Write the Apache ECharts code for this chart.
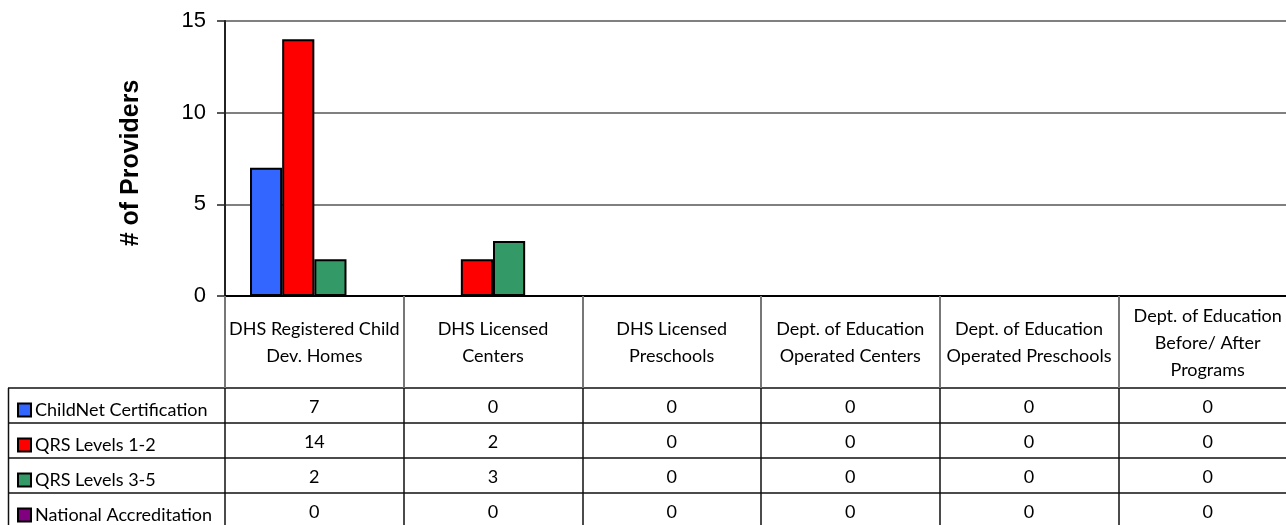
<!DOCTYPE html>
<html>
<head>
<meta charset="utf-8">
<script src="https://cdn.jsdelivr.net/npm/echarts@6/dist/echarts.min.js"></script>
<style>
html,body{margin:0;padding:0;background:#fff;}
#chart{width:1286px;height:525px;}
</style>
</head>
<body>
<div id="chart"></div>
<script>
const categories = [
  "DHS Registered Child\nDev. Homes",
  "DHS Licensed\nCenters",
  "DHS Licensed\nPreschools",
  "Dept. of Education\nOperated Centers",
  "Dept. of Education\nOperated Preschools",
  "Dept. of Education\nBefore/ After\nPrograms"
];
const seriesNames = ["ChildNet Certification", "QRS Levels 1-2", "QRS Levels 3-5", "National Accreditation"];
const childNet = [7, 0, 0, 0, 0, 0];
const qrs12 = [14, 2, 0, 0, 0, 0];
const qrs35 = [2, 3, 0, 0, 0, 0];
const national = [0, 0, 0, 0, 0, 0];
const yTicks = [0, 5, 10, 15];
const colors = ["#3366FF", "#FF0000", "#339966", "#800080"];

const rows = [childNet, qrs12, qrs35, national];
const TABLE_FONT = "Lato, 'Open Sans', sans-serif";
const GRID_LEFT = 225, GRID_TOP = 21, GRID_BOTTOM_Y = 296, HEADER_H = 92, ROW_H = 35;

const chart = echarts.init(document.getElementById('chart'), null, {renderer: 'canvas'});

const xAxes = [{
  type: 'category',
  data: categories,
  position: 'bottom',
  axisLine: {show: true, lineStyle: {color: '#000', width: 2}},
  axisTick: {show: true, interval: 0, length: HEADER_H, lineStyle: {color: '#777', width: 2}},
  axisLabel: {
    interval: 0, margin: HEADER_H / 2 + 1, verticalAlign: 'middle',
    color: '#000', fontFamily: TABLE_FONT, fontSize: 18, lineHeight: 27
  },
  splitLine: {show: false}
}];
rows.forEach((vals, r) => {
  xAxes.push({
    type: 'category',
    data: categories,
    position: 'bottom',
    offset: HEADER_H + r * ROW_H,
    axisLine: {show: true, lineStyle: {color: '#111', width: 1.5}},
    axisTick: {show: true, interval: 0, length: ROW_H, lineStyle: {color: '#111', width: 1.5}},
    axisLabel: {
      interval: 0, margin: ROW_H / 2 + 1.5, verticalAlign: 'middle',
      color: '#000', fontFamily: TABLE_FONT, fontSize: 18,
      formatter: (v, i) => String(vals[i])
    },
    splitLine: {show: false}
  });
});

const series = rows.map((vals, i) => ({
  name: seriesNames[i],
  type: 'bar',
  xAxisIndex: 0,
  data: vals,
  barGap: '0%',
  barCategoryGap: '28%',
  itemStyle: {color: colors[i], borderColor: '#000', borderWidth: 2},
  emphasis: {disabled: true}
}));

const legends = seriesNames.map((n, i) => ({
  data: [n],
  orient: 'vertical',
  left: 12,
  top: GRID_BOTTOM_Y + HEADER_H + i * ROW_H + 8,
  itemWidth: 13, itemHeight: 13, itemGap: 0,
  icon: 'rect',
  selectedMode: false,
  textStyle: {color: '#000', fontFamily: TABLE_FONT, fontSize: 18, padding: [0, 0, 0, -1]}
}));

const tableTop = GRID_BOTTOM_Y + HEADER_H;
const graphics = [];
for (let r = 0; r < rows.length; r++) {
  const y = tableTop + r * ROW_H;
  graphics.push({type: 'line', shape: {x1: 8, y1: y, x2: GRID_LEFT, y2: y}, style: {stroke: '#111', lineWidth: 1.5}, silent: true});
}
graphics.push({type: 'line', shape: {x1: 8.5, y1: tableTop, x2: 8.5, y2: 525}, style: {stroke: '#111', lineWidth: 1.5}, silent: true});

chart.setOption({
  animation: false,
  backgroundColor: '#fff',
  grid: {left: GRID_LEFT, top: GRID_TOP, width: 1072, bottom: 525 - GRID_BOTTOM_Y, containLabel: false, outerBoundsMode: 'none'},
  xAxis: xAxes,
  yAxis: {
    type: 'value', min: yTicks[0], max: yTicks[yTicks.length - 1], interval: 5,
    name: '# of Providers', nameLocation: 'middle', nameGap: 81, nameRotate: 90,
    nameTextStyle: {fontFamily: "'Liberation Sans', Arial, sans-serif", fontSize: 25, fontWeight: 'bold', color: '#000', padding: [0, 9, 0, 0]},
    axisLine: {show: true, lineStyle: {color: '#222', width: 2}},
    axisTick: {show: true, length: 8, lineStyle: {color: '#222', width: 1.5}},
    axisLabel: {margin: 19, fontFamily: "'Liberation Sans', Arial, sans-serif", fontSize: 22, color: '#000'},
    splitLine: {show: true, lineStyle: {color: '#808080', width: 2}}
  },
  legend: legends,
  series: series,
  graphic: graphics
});
</script>
</body>
</html>
